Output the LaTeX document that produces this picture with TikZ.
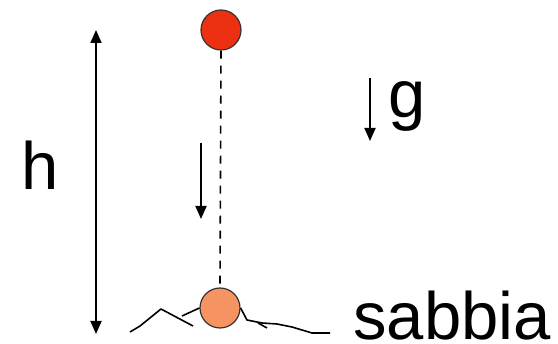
\documentclass[tikz,border=0pt]{standalone}
\usepackage{fontspec}
\setmainfont{Liberation Sans}
\usetikzlibrary{arrows.meta}
\definecolor{ballred}{RGB}{238,48,18}
\definecolor{ballorange}{RGB}{245,148,98}
\tikzset{
  ball/.style={circle, draw=black!80, line width=1.2pt, minimum size=40pt, inner sep=0pt},
  arr/.style={line width=1.8pt, -{Triangle[width=11pt,length=13pt]}},
  darr/.style={line width=1.8pt, {Triangle[width=11pt,length=13pt]}-{Triangle[width=11pt,length=13pt]}},
  lbl/.style={font=\fontsize{67}{80}\selectfont, inner sep=0pt, anchor=base, text depth=0pt},
  sand/.style={line width=1.6pt, line join=round}
}
\begin{document}
\begin{tikzpicture}[x=1pt, y=-1pt]
\useasboundingbox (0,0) rectangle (558,344);
\node[ball, fill=ballred] (top) at (221,30) {};
\node[ball, fill=ballorange] (bot) at (220,308) {};
\draw[line width=1.6pt, dash pattern=on 8pt off 7pt] (top.south) -- (bot.north);
% height arrow
\coordinate (ht) at (96,30);
\coordinate (hb) at (96,334);
\draw[darr] (ht) -- (hb);
\node[lbl] (h) at (40,190) {h};
% motion arrow
\coordinate (ms) at (201,143);
\coordinate (me) at (201,219);
\draw[arr] (ms) -- (me);
% gravity
\coordinate (gs) at (370,78);
\coordinate (ge) at (370,141);
\draw[arr] (gs) -- (ge);
\node[lbl] (g) at (407,118) {g};
\node[lbl] (s) at (452,340) {sabbia};
% sand
\draw[sand] (130,332) -- (140,326) -- (161,309) -- (193,326);
\draw[sand] (182,316) -- (bot.west);
\draw[sand] (bot.east) -- (247,320) -- (262,323) -- (277,324) -- (292,327) -- (312,333) -- (330,333);
\draw[sand] (258,323) -- (267,328);
\end{tikzpicture}
\end{document}
